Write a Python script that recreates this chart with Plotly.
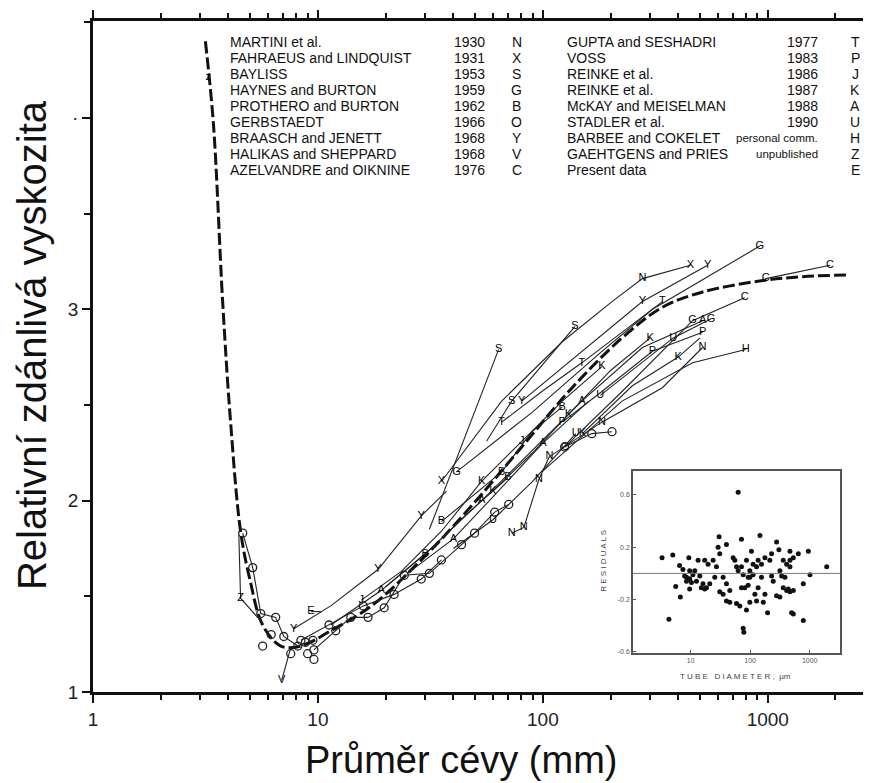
import plotly.graph_objects as go

# ---------------- data ----------------
fit_x = [3.16, 3.43, 3.77, 4.09, 4.53, 5.0, 5.68, 6.84, 8.4, 11.4, 17.3, 28.8, 48, 80.5, 135, 225, 340, 513, 950, 1430, 2320]
fit_y = [4.40, 3.97, 3.04, 2.41, 1.84, 1.58, 1.35, 1.24, 1.24, 1.32, 1.45, 1.69, 1.97, 2.28, 2.59, 2.85, 3.01, 3.09, 3.15, 3.17, 3.18]

# letter-marked study series (diameter, relative viscosity, code letter at point)
z_top_x, z_top_y, z_top_t = [3.25], [4.21], ["z"]
z_x, z_y, z_t = [4.45, 4.53, 5.68], [1.82, 1.49, 1.36], ["", "Z", ""]
e_x, e_y, e_t = [9.3, 10.4], [1.42, 1.42], ["E", ""]
v_x, v_y, v_t = [6.9, 7.6], [1.06, 1.24], ["V", ""]
ylo_x, ylo_y, ylo_t = [7.81, 11.4, 18.5, 28.8, 37.3], [1.33, 1.45, 1.64, 1.92, 2.05], ["Y", "", "Y", "Y", ""]
a_x, a_y, a_t = [11.4, 19.1, 31.9, 53.4, 89.3, 149, 277, 513], [1.35, 1.53, 1.75, 2.00, 2.26, 2.52, 2.80, 2.94], ["", "A", "", "A", "", "A", "", "A"]
a2_x, a2_y, a2_t = [25, 40, 60, 100, 160], [1.62, 1.80, 2.02, 2.30, 2.52], ["", "A", "", "A", ""]
b_x, b_y, b_t = [35.4, 48.2, 65.6, 89.3, 122], [1.89, 2.02, 2.15, 2.36, 2.49], ["B", "", "B", "", "B"]
b2_x, b2_y, b2_t = [20, 30, 45, 70], [1.55, 1.72, 1.92, 2.12], ["", "B", "", "B"]
j_x, j_y, j_t = [15.6, 23.5, 35.4, 53.4, 80.6, 122, 183], [1.48, 1.63, 1.84, 2.10, 2.31, 2.52, 2.70], ["J", "", "", "K", "J", "", "K"]
k_x, k_y, k_t = [150, 250, 400, 500], [2.35, 2.60, 2.75, 2.85], ["K", "", "K", ""]
k2_x, k2_y, k2_t = [60, 90, 130, 200, 300], [2.05, 2.25, 2.45, 2.68, 2.85], ["K", "", "K", "", "K"]
u_x, u_y, u_t = [40, 60, 90, 140], [1.75, 1.90, 2.10, 2.35], ["", "U", "", "U"]
u2_x, u2_y, u2_t = [180, 260, 380, 560], [2.55, 2.70, 2.85, 2.95], ["U", "", "U", "G"]
t_x, t_y, t_t = [65.6, 99, 149, 225, 340], [2.41, 2.57, 2.72, 2.88, 3.04], ["T", "", "T", "", "T"]
p_x, p_y, p_t = [122, 183, 307, 513], [2.41, 2.57, 2.78, 2.88], ["P", "", "P", "P"]
xup_x, xup_y, xup_t = [35.4, 65.6, 122, 203, 277, 453], [2.10, 2.52, 2.83, 3.04, 3.16, 3.23], ["X", "", "", "", "N", "X"]
yup_x, yup_y, yup_t = [80.6, 149, 277, 540], [2.52, 2.78, 3.04, 3.23], ["Y", "", "Y", "Y"]
s1_x, s1_y, s1_t = [31.3, 39.2, 63.6], [1.85, 2.15, 2.79], ["", "", "S"]
s2_x, s2_y, s2_t = [56.2, 72.7, 139], [2.31, 2.52, 2.91], ["", "S", "S"]
nlo_x, nlo_y, nlo_t = [72.7, 82.3, 96, 107], [1.83, 1.86, 2.11, 2.23], ["N", "N", "N", "N"]
nmid_x, nmid_y, nmid_t = [107, 183, 340, 513], [2.23, 2.41, 2.59, 2.80], ["", "N", "", "N"]
g_x, g_y, g_t = [41.3, 89.3, 183, 307, 921], [2.15, 2.46, 2.78, 3.00, 3.33], ["G", "", "", "", "G"]
h_x, h_y, h_t = [99, 225, 463, 798], [2.15, 2.52, 2.72, 2.79], ["", "", "", "H"]
c1_x, c1_y, c1_t = [125, 225, 463, 789], [2.28, 2.57, 2.94, 3.06], ["C", "", "G", "C"]
c2_x, c2_y, c2_t = [980, 1892], [3.16, 3.23], ["C", "C"]

# open-circle series
oleft_x = [4.63, 5.13, 5.57, 6.49, 7.05, 8.14, 9.5]
oleft_y = [1.83, 1.65, 1.41, 1.39, 1.29, 1.24, 1.27]
omin_x = [5.68, 7.57, 8.8, 9.0, 9.6, 6.2]
omin_y = [1.24, 1.20, 1.26, 1.20, 1.17, 1.30]
o2_x = [9.6, 12.0, 14.0, 16.7, 19.7, 24.2, 31.3, 43.5, 49.7, 61.1, 70.5]
o2_y = [1.22, 1.32, 1.39, 1.39, 1.44, 1.61, 1.62, 1.77, 1.83, 1.94, 1.98]
o3_x = [8.4, 11.2, 15.9, 21.8, 28.8, 35.4]
o3_y = [1.27, 1.35, 1.45, 1.51, 1.59, 1.69]
o4_x = [125, 165, 203]
o4_y = [2.28, 2.35, 2.36]

# inset residuals (tube diameter um, residual)
res_x = [62.8, 4.3, 76.2, 78.2, 1935, 950, 1013, 782, 782, 497, 531, 196, 3.3, 5.0, 9.3, 5.6, 6.7, 9.6,
         30.0, 39.9, 71.4, 146, 278, 304, 229, 466, 644,
         6.5, 7.4, 8.5, 9.6, 10.9, 12.5, 14.2, 16.1, 18.4, 20.9, 11.7, 13.3, 17.2, 19.6, 8.5, 10.3, 15.1, 17.2, 7.9, 9.6,
         25.4, 28.9, 30.8, 35.1, 39.9, 45.4, 39.9, 45.4, 58.9, 67.0, 86.7, 98.7, 51.7, 55.2, 58.9, 62.8, 71.4, 76.2,
         86.7, 92.5, 98.7, 112, 105, 81.3, 92.5, 71.4, 35.1, 30.8, 23.8, 27.1,
         120, 128, 136, 155, 177, 166, 229, 244, 316, 360, 410, 466, 338, 360, 410, 466, 531, 316, 278, 384, 466,
         531, 214, 177, 128, 136, 155, 112, 98.7, 437]
res_y = [0.62, -0.35, -0.42, -0.45, 0.05, 0.17, -0.01, -0.08, -0.36, -0.30, -0.31, -0.30, 0.12, 0.14, 0.12, -0.10, -0.18, -0.12,
         0.28, 0.22, 0.26, 0.29, 0.24, 0.18, 0.15, 0.17, 0.15,
         0.06, 0.03, -0.03, -0.04, -0.01, -0.06, -0.02, -0.08, -0.11, -0.08, 0.02, 0.10, 0.10, 0.07, -0.06, -0.07, -0.11, -0.12, -0.02, 0.02,
         -0.03, 0.20, 0.15, -0.03, -0.08, -0.13, -0.21, -0.22, -0.23, -0.25, -0.28, -0.22, 0.12, 0.10, 0.05, 0.02, 0.05, -0.01,
         0.10, -0.03, 0.02, 0.07, 0.17, -0.11, -0.09, -0.11, -0.16, -0.14, 0.10, 0.05,
         -0.16, -0.21, -0.11, -0.03, -0.16, -0.22, -0.02, -0.06, 0.02, 0.10, 0.07, 0.05, -0.02, -0.11, -0.13, -0.14, -0.13, -0.18, -0.17, -0.03, 0.10,
         0.12, 0.10, 0.12, 0.05, 0.10, 0.07, -0.01, -0.03, -0.12]

# legend table
left_names = ["MARTINI et al.", "FAHRAEUS and LINDQUIST", "BAYLISS", "HAYNES and BURTON", "PROTHERO and BURTON",
              "GERBSTAEDT", "BRAASCH and JENETT", "HALIKAS and SHEPPARD", "AZELVANDRE and OIKNINE"]
left_years = ["1930", "1931", "1953", "1959", "1962", "1966", "1968", "1968", "1976"]
left_codes = ["N", "X", "S", "G", "B", "O", "Y", "V", "C"]
right_names = ["GUPTA and SESHADRI", "VOSS", "REINKE et al.", "REINKE et al.", "McKAY and MEISELMAN",
               "STADLER et al.", "BARBEE and COKELET", "GAEHTGENS and PRIES", "Present data"]
right_years = ["1977", "1983", "1986", "1987", "1988", "1990", "personal comm.", "unpublished", ""]
right_codes = ["T", "P", "J", "K", "A", "U", "H", "Z", "E"]

x_ticks = [1, 10, 100, 1000]
x_ticktext = ["1", "10", "100", "1000"]
y_ticks = [1, 2, 3, 4]
y_ticktext = ["1", "2", "3", "·"]
inset_xticks = [1, 10, 100, 1000]
inset_yticks = [0.6, 0.2, -0.2, -0.6]

# ---------------- layout geometry (page pixels) ----------------
PAGE_W, PAGE_H = 871, 783
OFF = 8                      # default body margin of the html page
L, R, T, B = 93, 869, 17, 692  # plot area in page pixels
W, H = PAGE_W - OFF, PAGE_H - OFF


def px_x(px):
    return (px - L) / (R - L)


def px_y(py):
    return (B - py) / (B - T)


FONT = "Liberation Sans, Arial, sans-serif"
fig = go.Figure()

# fitted curve
fig.add_trace(go.Scatter(x=fit_x, y=fit_y, mode="lines", line=dict(color="#111", width=3, dash="12px,4px"),
                         line_shape="spline", hoverinfo="skip"))

letter_series = [
    (z_top_x, z_top_y, z_top_t, False), (z_x, z_y, z_t, True), (e_x, e_y, e_t, True), (v_x, v_y, v_t, True),
    (ylo_x, ylo_y, ylo_t, True), (a_x, a_y, a_t, True), (a2_x, a2_y, a2_t, True), (b_x, b_y, b_t, True),
    (b2_x, b2_y, b2_t, True), (j_x, j_y, j_t, True), (k_x, k_y, k_t, True), (k2_x, k2_y, k2_t, True),
    (u_x, u_y, u_t, True), (u2_x, u2_y, u2_t, True), (t_x, t_y, t_t, True), (p_x, p_y, p_t, True),
    (xup_x, xup_y, xup_t, True), (yup_x, yup_y, yup_t, True), (s1_x, s1_y, s1_t, True), (s2_x, s2_y, s2_t, True),
    (nlo_x, nlo_y, nlo_t, True), (nmid_x, nmid_y, nmid_t, True), (g_x, g_y, g_t, True), (h_x, h_y, h_t, True),
    (c1_x, c1_y, c1_t, True), (c2_x, c2_y, c2_t, True),
]
for xs, ys, ts, with_line in letter_series:
    fig.add_trace(go.Scatter(
        x=xs, y=ys, text=ts, mode="lines+text" if with_line else "text",
        textposition="middle center",
        textfont=dict(family=FONT, size=11, color="#000"),
        line=dict(color="#222", width=1.1), hoverinfo="skip"))

for xs, ys, mode in [(oleft_x, oleft_y, "lines+markers"), (omin_x, omin_y, "markers"),
                     (o2_x, o2_y, "lines+markers"), (o3_x, o3_y, "lines+markers"),
                     (o4_x, o4_y, "lines+markers")]:
    fig.add_trace(go.Scatter(
        x=xs, y=ys, mode=mode,
        marker=dict(symbol="circle-open", size=8, color="#222", line=dict(width=1.3)),
        line=dict(color="#222", width=1.1), hoverinfo="skip"))

# inset
fig.add_trace(go.Scatter(x=res_x, y=res_y, mode="markers", xaxis="x2", yaxis="y2",
                         marker=dict(size=5, color="#111"), hoverinfo="skip"))

axis_common = dict(showgrid=False, zeroline=False, linecolor="#111", linewidth=2.5,
                   ticks="outside", tickcolor="#111", tickwidth=2, ticklen=8,
                   tickfont=dict(family=FONT, size=19, color="#222"))

fig.update_layout(
    width=W, height=H,
    margin=dict(l=L - OFF, r=PAGE_W - R, t=T - OFF, b=PAGE_H - B),
    paper_bgcolor="white", plot_bgcolor="white",
    showlegend=False,
    xaxis=dict(type="log", range=[0, 3.45], domain=[0, 1], mirror="ticks",
               tickvals=x_ticks, ticktext=x_ticktext,
               minor=dict(tickvals=[2, 3, 4, 5, 6, 7, 8, 9, 20, 30, 40, 50, 60, 70, 80, 90,
                                    200, 300, 400, 500, 600, 700, 800, 900, 2000],
                          ticks="outside", ticklen=5, tickwidth=1.5, tickcolor="#111"),
               **axis_common),
    yaxis=dict(range=[1, 4.506], domain=[0, 1], tickvals=y_ticks, ticktext=y_ticktext,
               minor=dict(dtick=0.5, tick0=1, ticks="outside", ticklen=6, tickwidth=1.5, tickcolor="#111"),
               **axis_common),
    xaxis2=dict(type="log", range=[0.03, 3.51], domain=[px_x(633), px_x(840)], anchor="y2",
                showgrid=False, zeroline=False, linecolor="#555", linewidth=1.5, mirror=True,
                ticks="inside", ticklen=3, tickcolor="#555", tickvals=inset_xticks,
                ticktext=["1", "10", "100", "1000"], tickfont=dict(family=FONT, size=7, color="#555")),
    yaxis2=dict(range=[-0.61, 0.78], domain=[px_y(653), px_y(470)], anchor="x2",
                showgrid=False, zeroline=False, linecolor="#555", linewidth=1.5, mirror=True,
                ticks="inside", ticklen=3, tickcolor="#555", tickvals=inset_yticks,
                ticktext=["0.6", "0.2", "-0.2", "-0.6"], tickfont=dict(family=FONT, size=7, color="#555")),
)

fig.add_shape(type="line", xref="x2 domain", yref="y2", x0=0, x1=1, y0=0, y1=0,
              line=dict(color="#777", width=1))

ann = []
# axis titles
ann.append(dict(text="Průměr cévy (mm)", x=px_x(461), y=px_y(760), xref="paper", yref="paper",
                showarrow=False, font=dict(family=FONT, size=38, color="#111"),
                xanchor="center", yanchor="middle"))
ann.append(dict(text="Relativní zdánlivá vyskozita", x=px_x(32), y=px_y(343), xref="paper", yref="paper",
                showarrow=False, textangle=-90, font=dict(family=FONT, size=40, color="#111"),
                xanchor="center", yanchor="middle"))
# inset labels
ann.append(dict(text="T U B E   D I A M E T E R ,  μm", x=px_x(735), y=px_y(676), xref="paper", yref="paper",
                showarrow=False, font=dict(family=FONT, size=8, color="#444"), xanchor="center", yanchor="middle"))
ann.append(dict(text="R E S I D U A L S", x=px_x(604), y=px_y(560), xref="paper", yref="paper",
                showarrow=False, textangle=-90, font=dict(family=FONT, size=8, color="#444"),
                xanchor="center", yanchor="middle"))

# legend table
tfont = dict(family=FONT, size=14, color="#111")
sfont = dict(family=FONT, size=11.5, color="#111")
for i in range(len(left_names)):
    py = 38 + i * 16.1
    ann.append(dict(text=left_names[i], x=px_x(228), y=px_y(py), xref="paper", yref="paper", showarrow=False,
                    font=tfont, xanchor="left", yanchor="middle"))
    ann.append(dict(text=left_years[i], x=px_x(487), y=px_y(py), xref="paper", yref="paper", showarrow=False,
                    font=tfont, xanchor="right", yanchor="middle"))
    ann.append(dict(text=left_codes[i], x=px_x(517), y=px_y(py), xref="paper", yref="paper", showarrow=False,
                    font=tfont, xanchor="center", yanchor="middle"))
    ann.append(dict(text=right_names[i], x=px_x(565), y=px_y(py), xref="paper", yref="paper", showarrow=False,
                    font=tfont, xanchor="left", yanchor="middle"))
    if right_years[i]:
        ann.append(dict(text=right_years[i], x=px_x(820), y=px_y(py), xref="paper", yref="paper", showarrow=False,
                        font=tfont if right_years[i].isdigit() else sfont, xanchor="right", yanchor="middle"))
    ann.append(dict(text=right_codes[i], x=px_x(855), y=px_y(py), xref="paper", yref="paper", showarrow=False,
                    font=tfont, xanchor="center", yanchor="middle"))

fig.update_layout(annotations=ann)
fig.write_html("out.html")
